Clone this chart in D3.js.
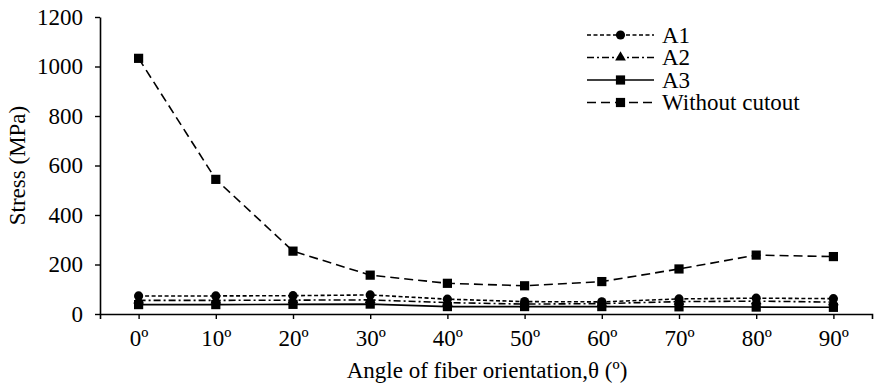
<!DOCTYPE html>
<html>
<head>
<meta charset="utf-8">
<script src="https://cdn.jsdelivr.net/npm/d3@7.9.0/dist/d3.min.js"></script>
<style>
  body { margin: 0; background: #fff; }
  svg text { font-family: 'Liberation Serif', 'Times New Roman', serif; fill: #000; }
</style>
</head>
<body>
<svg id="chart" width="874" height="385"></svg>
<script>
// angles of fiber orientation
const angles = ['0º', '10º', '20º', '30º', '40º', '50º', '60º', '70º', '80º', '90º'];

// stress values (MPa)
const a1 = [73, 73, 74, 77, 60, 50, 49, 61, 64, 62];
const a2 = [55, 55, 56, 57, 46, 40, 42, 50, 52, 48];
const a3 = [38, 38, 39, 40, 30, 30, 30, 29, 28, 27];
const withoutCutout = [1033, 544, 254, 157, 124, 114, 131, 182, 238, 232];

const yTicks = [0, 200, 400, 600, 800, 1000, 1200];

const seriesNames = ['A1', 'A2', 'A3', 'Without cutout'];

const series = [
  { name: seriesNames[3], values: withoutCutout, dash: '9,5', marker: 'square' },
  { name: seriesNames[0], values: a1, dash: '4,2.5', marker: 'circle' },
  { name: seriesNames[1], values: a2, dash: '7,3,2,3', marker: 'triangle' },
  { name: seriesNames[2], values: a3, dash: null, marker: 'square' },
];

const svg = d3.select('#chart');
const plotLeft = 100, plotRight = 872, plotTop = 17, plotBottom = 314;

const x = d3.scalePoint().domain(angles).range([plotLeft, plotRight]).padding(0.5);
const y = d3.scaleLinear().domain([0, 1200]).range([plotBottom, plotTop]);

// axes
const yAxis = svg.append('g')
  .attr('transform', `translate(${plotLeft},0)`)
  .call(d3.axisLeft(y).tickValues(yTicks).tickFormat(d3.format('d'))
    .tickSize(5).tickSizeOuter(0).tickPadding(12));

const xAxis = svg.append('g')
  .attr('transform', `translate(0,${plotBottom})`)
  .call(d3.axisBottom(x).tickSize(5).tickSizeOuter(5).tickPadding(11));

[yAxis, xAxis].forEach((g) => {
  g.select('.domain').attr('stroke', '#000').attr('stroke-width', 1.6);
  g.selectAll('.tick line').attr('stroke', '#000').attr('stroke-width', 1.4);
  g.selectAll('.tick text').attr('font-size', 23).attr('fill', '#000')
    .style('font-family', "'Liberation Serif', 'Times New Roman', serif");
});

svg.append('text')
  .attr('transform', `translate(25,${(plotTop + plotBottom) / 2}) rotate(-90)`)
  .attr('text-anchor', 'middle')
  .attr('font-size', 23)
  .text('Stress (MPa)');

svg.append('text')
  .attr('x', 487)
  .attr('y', 378)
  .attr('text-anchor', 'middle')
  .attr('font-size', 23)
  .text('Angle of fiber orientation,θ (º)');

function drawMarker(g, type, cx, cy) {
  if (type === 'circle') {
    g.append('circle').attr('cx', cx).attr('cy', cy).attr('r', 4.6).attr('fill', '#000');
  } else if (type === 'square') {
    g.append('rect').attr('x', cx - 4.6).attr('y', cy - 4.6).attr('width', 9.2).attr('height', 9.2).attr('fill', '#000');
  } else {
    g.append('path')
      .attr('d', d3.symbol().type(d3.symbolTriangle).size(50)())
      .attr('transform', `translate(${cx},${cy})`)
      .attr('fill', '#000');
  }
}

const line = d3.line().x((d, i) => x(angles[i])).y((d) => y(d));

series.forEach((s) => {
  const g = svg.append('g');
  g.append('path')
    .attr('d', line(s.values))
    .attr('fill', 'none')
    .attr('stroke', '#000')
    .attr('stroke-width', 1.6)
    .attr('stroke-dasharray', s.dash);
  s.values.forEach((v, i) => drawMarker(g, s.marker, x(angles[i]), y(v)));
});

// legend
const legendRows = [series[1], series[2], series[3], series[0]];
const legend = svg.append('g');
legendRows.forEach((s, i) => {
  const ly = 35 + i * 22.5;
  legend.append('line')
    .attr('x1', 587).attr('x2', 654)
    .attr('y1', ly).attr('y2', ly)
    .attr('stroke', '#000').attr('stroke-width', 1.6)
    .attr('stroke-dasharray', s.dash);
  drawMarker(legend, s.marker, 620.5, ly);
  legend.append('text')
    .attr('x', 662).attr('y', ly + 7.5)
    .attr('font-size', 23)
    .text(s.name);
});
</script>
</body>
</html>
